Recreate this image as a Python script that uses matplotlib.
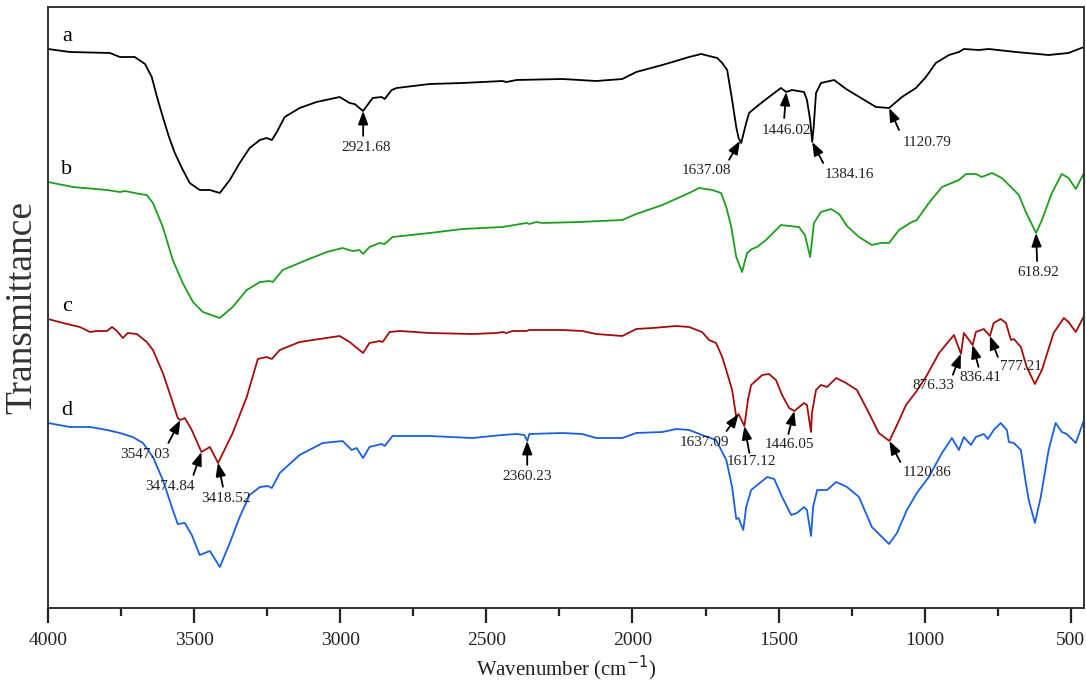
import numpy as np
import matplotlib
matplotlib.use("Agg")
import matplotlib.pyplot as plt
from matplotlib.ticker import MultipleLocator, NullLocator

# FTIR spectra, wavenumber (cm-1) and transmittance (a.u., offset per trace)
a_wn = [4000, 3925, 3788, 3754, 3703, 3668, 3645, 3627, 3607, 3586, 3566, 3542, 3515, 3481,
        3446, 3412, 3378, 3344, 3310, 3275, 3252, 3234, 3217, 3190, 3139, 3081, 3002, 2968,
        2951, 2922, 2889, 2859, 2848, 2824, 2807, 2694, 2582, 2445, 2431, 2397, 2240, 2124,
        2035, 1987, 1898, 1806, 1765, 1710, 1693, 1676, 1659, 1645, 1637, 1628, 1611, 1601,
        1577, 1533, 1492, 1474, 1454, 1413, 1403, 1392, 1385, 1380, 1372, 1355, 1310, 1269,
        1235, 1167, 1122, 1078, 1030, 996, 962, 917, 883, 866, 815, 781, 688, 576, 508, 455]
a_t = [559, 556, 555, 551, 551, 544, 531, 511, 491, 471, 455, 440, 425, 418,
       418, 415, 428, 445, 460, 468, 470, 468, 476, 491, 500, 506, 511, 505,
       504, 497, 510, 511, 509, 518, 520, 524, 525, 527, 526, 528, 529, 527,
       529, 536, 543, 551, 554, 550, 545, 538, 508, 481, 470, 465, 485, 495,
       501, 511, 520, 516, 518, 516, 508, 488, 466, 481, 515, 525, 528, 519,
       513, 501, 500, 511, 520, 531, 545, 553, 556, 559, 558, 559, 556, 553, 555, 561]

b_wn = [4000, 3915, 3798, 3754, 3737, 3686, 3662, 3641, 3607, 3573, 3539, 3504, 3470, 3412,
        3368, 3320, 3275, 3241, 3231, 3197, 3115, 3046, 2992, 2958, 2934, 2922, 2900, 2865,
        2848, 2821, 2694, 2582, 2445, 2363, 2353, 2329, 2308, 2182, 2035, 1987, 1898, 1806,
        1772, 1727, 1697, 1679, 1662, 1645, 1625, 1608, 1591, 1574, 1543, 1492, 1464, 1430,
        1410, 1392, 1379, 1355, 1321, 1293, 1266, 1225, 1181, 1150, 1122, 1088, 1044, 1027,
        986, 941, 883, 859, 825, 805, 770, 736, 705, 678, 654, 619, 599, 565, 531, 508,
        483, 455]
b_t = [426, 421, 418, 416, 417, 414, 413, 405, 381, 348, 325, 306, 296, 290,
       301, 318, 326, 327, 326, 338, 348, 356, 360, 357, 358, 354, 361, 365,
       364, 371, 375, 379, 381, 385, 384, 386, 385, 386, 388, 394, 403, 415,
       420, 418, 415, 401, 381, 351, 336, 355, 359, 361, 368, 383, 382, 381,
       373, 351, 385, 396, 399, 394, 382, 371, 363, 365, 365, 378, 386, 388,
       405, 421, 428, 434, 434, 431, 435, 430, 421, 413, 396, 375, 388, 415, 434, 430,
       419, 435]

c_wn = [4000, 3935, 3891, 3856, 3833, 3798, 3781, 3764, 3744, 3727, 3696, 3662, 3641, 3607,
        3576, 3556, 3547, 3532, 3508, 3475, 3446, 3418, 3368, 3320, 3282, 3252, 3234, 3207,
        3139, 3002, 2968, 2922, 2900, 2865, 2855, 2831, 2797, 2694, 2548, 2465, 2445, 2431,
        2411, 2363, 2353, 2240, 2172, 2124, 2035, 1987, 1932, 1850, 1806, 1762, 1738, 1714,
        1693, 1669, 1659, 1645, 1637, 1617, 1605, 1594, 1556, 1533, 1509, 1488, 1464, 1446,
        1413, 1403, 1389, 1386, 1372, 1355, 1334, 1303, 1269, 1232, 1191, 1157, 1121, 1095,
        1064, 1030, 996, 951, 900, 876, 866, 836, 825, 798, 777, 764, 740, 722, 705, 695,
        671, 651, 623, 599, 559, 524, 508, 483, 455]
c_t = [289, 284, 281, 276, 277, 277, 281, 277, 270, 275, 274, 266, 258, 235,
       208, 190, 188, 190, 178, 156, 161, 145, 175, 211, 249, 251, 249, 258,
       266, 272, 266, 255, 265, 267, 266, 276, 277, 275, 274, 275, 276, 275,
       277, 277, 278, 278, 277, 274, 272, 279, 280, 282, 281, 276, 268, 265,
       251, 228, 218, 191, 194, 182, 208, 223, 233, 234, 228, 213, 200, 197,
       205, 203, 176, 195, 218, 223, 221, 230, 225, 218, 195, 175, 167, 183,
       203, 216, 231, 255, 273, 254, 275, 263, 276, 279, 272, 285, 289, 285, 268, 269,
       261, 241, 224, 238, 275, 290, 286, 276, 292]

d_wn = [4000, 3925, 3856, 3798, 3754, 3710, 3675, 3641, 3607, 3573, 3556, 3532, 3508, 3481,
        3446, 3412, 3378, 3344, 3310, 3275, 3248, 3234, 3207, 3139, 3060, 2992, 2961, 2944,
        2922, 2900, 2859, 2848, 2821, 2694, 2548, 2445, 2397, 2370, 2360, 2353, 2240, 2172,
        2124, 2035, 1987, 1898, 1850, 1806, 1762, 1714, 1679, 1659, 1645, 1637, 1621, 1611,
        1594, 1539, 1515, 1488, 1457, 1437, 1413, 1403, 1389, 1382, 1368, 1334, 1303, 1266,
        1225, 1181, 1122, 1095, 1061, 1027, 986, 941, 907, 883, 866, 842, 825, 798, 784,
        764, 740, 719, 712, 695, 671, 654, 644, 623, 603, 576, 552, 531, 514, 483, 455]
d_t = [185, 181, 181, 178, 175, 171, 165, 151, 128, 98, 84, 85, 73, 53,
       57, 41, 65, 91, 113, 121, 122, 120, 135, 153, 165, 167, 158, 160,
       150, 161, 164, 162, 172, 172, 170, 173, 174, 173, 167, 174, 175, 174,
       170, 170, 175, 176, 179, 178, 173, 168, 148, 121, 89, 90, 78, 101,
       118, 131, 129, 111, 93, 95, 101, 98, 72, 101, 118, 118, 126, 121,
       111, 81, 64, 75, 98, 115, 131, 155, 170, 158, 171, 163, 171, 174, 169,
       178, 185, 178, 166, 165, 158, 125, 108, 85, 111, 158, 185, 176, 174, 165, 188]

series = [("a", a_wn, a_t, "#000000"),
          ("b", b_wn, b_t, "#1e9e1e"),
          ("c", c_wn, c_t, "#a30c0c"),
          ("d", d_wn, d_t, "#1a5fe0")]

# peak labels: (text, trace, wavenumber)
peaks = [("2921.68", "a", 2921.68), ("1637.08", "a", 1632), ("1446.02", "a", 1474),
         ("1384.16", "a", 1385), ("1120.79", "a", 1122), ("618.92", "b", 619),
         ("3547.03", "c", 3547.03), ("3474.84", "c", 3475), ("3418.52", "c", 3418.52),
         ("1637.09", "c", 1637.09), ("1617.12", "c", 1617.12), ("1446.05", "c", 1446.05),
         ("1120.86", "c", 1121), ("876.33", "c", 876.33), ("836.41", "c", 836.41),
         ("777.21", "c", 777.21), ("2360.23", "d", 2360.23)]

# arrow tail and text centre offsets in pixels from the peak
offsets = {"2921.68": ((0, -25), (3, -37)), "1637.08": ((-11, -19), (-34, -30)),
           "1446.02": ((-2, -26), (0, -39)), "1384.16": ((11, -21), (37, -33)),
           "1120.79": ((10, -22), (38, -34)), "618.92": ((1, -28), (2, -40)),
           "3547.03": ((-12, -23), (-35, -35)), "3474.84": ((-8, -23), (-31, -35)),
           "3418.52": ((5, -24), (8, -36)), "2360.23": ((0, -24), (0, -36)),
           "1637.09": ((-12, -17), (-34, -28)), "1617.12": ((5, -27), (7, -36)),
           "1446.05": ((-6, -23), (-5, -34)), "1120.86": ((11, -21), (38, -32)),
           "876.33": ((-8, -21), (-28, -32)), "836.41": ((6, -22), (8, -33)),
           "777.21": ((8, -21), (31, -31))}

plt.rcParams['font.family'] = ['Liberation Serif', 'DejaVu Serif']

fig = plt.figure(figsize=(10.86, 7.0), dpi=100)
ax = fig.add_axes([48 / 1086, 92 / 700, 1036 / 1086, 601 / 700])

curves = {}
for name, wn, t, col in series:
    ax.plot(wn, t, color=col, lw=1.3, solid_joinstyle='round')
    curves[name] = (np.array(wn[::-1], float), np.array(t[::-1], float))
    ax.annotate(name, xy=(wn[0], t[0]), xytext=(19, 3), textcoords='offset pixels',
                fontsize=16, ha='center', va='bottom')

for label, name, wn in peaks:
    x, y = curves[name]
    ty = np.interp(wn, x, y)
    tail, txt = offsets[label]
    ax.annotate('', xy=(wn, ty), xytext=tail, textcoords='offset pixels',
                arrowprops=dict(arrowstyle='-|>,head_length=0.8,head_width=0.3',
                                color='black', lw=1.3, shrinkA=0, shrinkB=0))
    ax.annotate(label, xy=(wn, ty), xytext=txt, textcoords='offset pixels',
                fontsize=11, ha='center', va='center', color='#222222')

ax.set_xlim(4000, 455)
ax.set_ylim(0, 601)
ax.xaxis.set_major_locator(MultipleLocator(500))
ax.xaxis.set_minor_locator(MultipleLocator(250))
ax.yaxis.set_major_locator(NullLocator())
ax.tick_params(axis='x', which='major', direction='out', length=11, width=1.6,
               labelsize=14, pad=6, colors='#222222')
ax.tick_params(axis='x', which='minor', direction='out', length=6, width=1.6, colors='#222222')
for s in ax.spines.values():
    s.set_color('#333333')
    s.set_linewidth(1.4)

ax.set_xlabel('Wavenumber (cm$^{-1}$)', fontsize=15, color='#222222', labelpad=4)
ax.set_ylabel('Transmittance', fontsize=27, color='#333333', labelpad=6)

fig.savefig('out.png', dpi=100)
